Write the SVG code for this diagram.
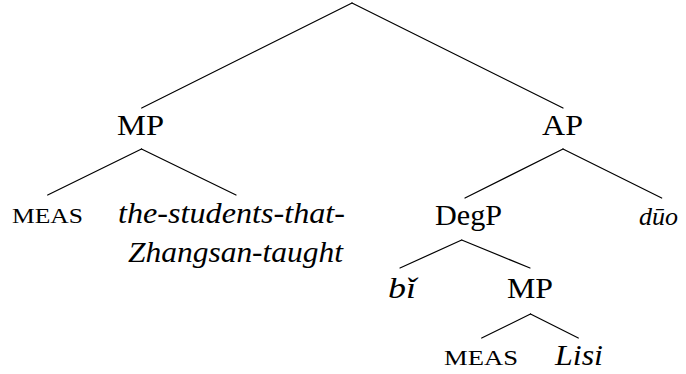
<svg xmlns="http://www.w3.org/2000/svg" width="686" height="374" viewBox="0 0 686 374">
<style>
.e{stroke:#000;stroke-width:1.2;fill:none;stroke-linecap:round}
text{font-family:'Liberation Serif','Times New Roman',Times,'DejaVu Serif',serif;font-size:30px;fill:#000}
.i{font-style:italic}
.sc{font-size:21px}
</style>
<rect width="686" height="374" fill="#fff"/>
<g id="connectors">
<line class="e" x1="352" y1="3" x2="141.7" y2="108"/>
<line class="e" x1="352" y1="3" x2="563" y2="108"/>
<line class="e" x1="141.5" y1="149" x2="47.7" y2="195"/>
<line class="e" x1="141.5" y1="149" x2="236" y2="195"/>
<line class="e" x1="563" y1="149" x2="465" y2="198"/>
<line class="e" x1="563" y1="149" x2="661.7" y2="198"/>
<line class="e" x1="461.7" y1="240" x2="400" y2="268"/>
<line class="e" x1="461.7" y1="240" x2="530" y2="268"/>
<line class="e" x1="530.5" y1="314" x2="481.7" y2="338"/>
<line class="e" x1="530.5" y1="314" x2="578.3" y2="338"/>
</g>
<g id="mp1"><text x="117" y="135" textLength="47" lengthAdjust="spacingAndGlyphs">MP</text></g>
<g id="ap"><text x="542" y="135" textLength="41" lengthAdjust="spacingAndGlyphs">AP</text></g>
<g id="meas1"><text class="sc" x="12" y="223" textLength="71" lengthAdjust="spacingAndGlyphs">MEAS</text></g>
<g id="students"><text class="i" x="118" y="223" textLength="227" lengthAdjust="spacingAndGlyphs">the-students-that-</text><text class="i" x="128" y="262" textLength="215" lengthAdjust="spacingAndGlyphs">Zhangsan-taught</text></g>
<g id="degp"><text x="435" y="225" textLength="67" lengthAdjust="spacingAndGlyphs">DegP</text></g>
<g id="duo"><text class="i" x="678" y="225" text-anchor="end" style="font-size:26px">dūo</text></g>
<g id="bi"><text class="i" x="388" y="298" textLength="28" lengthAdjust="spacingAndGlyphs">bǐ</text></g>
<g id="mp2"><text x="507" y="298" textLength="46" lengthAdjust="spacingAndGlyphs">MP</text></g>
<g id="meas2"><text class="sc" x="444" y="365" textLength="74" lengthAdjust="spacingAndGlyphs">MEAS</text></g>
<g id="lisi"><text class="i" x="555" y="365" textLength="48" lengthAdjust="spacingAndGlyphs">Lisi</text></g>
</svg>
